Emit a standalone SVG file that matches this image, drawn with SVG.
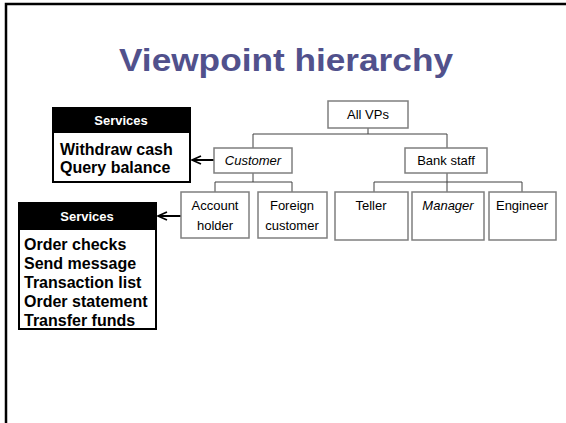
<svg xmlns="http://www.w3.org/2000/svg" width="566" height="423" viewBox="0 0 566 423">
<defs>
<marker id="ah" markerWidth="12" markerHeight="10" refX="10" refY="5" orient="auto" markerUnits="userSpaceOnUse">
<path d="M1,1 L10,5 L1,9" fill="none" stroke="#000" stroke-width="1.8"/>
</marker>
<style>
.node rect{fill:#fff;stroke:#7f7f7f;stroke-width:1.5}
.node text{font-family:"Comic Sans MS","Liberation Sans",sans-serif;font-size:13px;fill:#000;text-anchor:middle}
.conn path{fill:none;stroke:#404040;stroke-width:1}
.conn path.arrow{fill:none;stroke:#000;stroke-width:2}
.svc .hd{fill:#000}
.svc .bd{fill:#fff;stroke:#000;stroke-width:2}
.svc .ht{font-family:"Comic Sans MS","Liberation Sans",sans-serif;font-size:13px;font-weight:bold;fill:#fff;text-anchor:middle}
.svc .it{font-family:"Comic Sans MS","Liberation Sans",sans-serif;font-size:16px;font-weight:bold;fill:#000}
</style>
</defs>
<rect x="0" y="0" width="566" height="423" fill="#fff"/>
<path d="M6,423 V4 H566" fill="none" stroke="#000" stroke-width="2.5"/>
<text x="286" y="71" font-family="'Comic Sans MS','Liberation Sans',sans-serif" font-size="32" font-weight="bold" fill="#51518c" text-anchor="middle" textLength="334" lengthAdjust="spacingAndGlyphs">Viewpoint hierarchy</text>

<g class="conn" id="connectors">
<path d="M368,128 V134 M253,134 H447 M253,134 V148 M447,134 V148"/>
<path d="M253,173 V182 M215,182 H292 M215,182 V192 M292,182 V192"/>
<path d="M447,173 V182 M374,182 H522 M374,182 V192 M447,182 V192 M522,182 V192"/>
<path class="arrow" d="M214,160 H192" marker-end="url(#ah)"/>
<path class="arrow" d="M181,216 H158" marker-end="url(#ah)"/>
</g>

<g class="node" id="allvps"><rect x="328" y="101" width="80" height="27"/><text x="368" y="119">All VPs</text></g>
<g class="node" id="customer"><rect x="214" y="148" width="78" height="25"/><text x="253" y="165" font-style="italic">Customer</text></g>
<g class="node" id="bankstaff"><rect x="405" y="148" width="82" height="25"/><text x="446" y="165">Bank staff</text></g>
<g class="node" id="accountholder"><rect x="181" y="192" width="68" height="46"/><text x="215" y="210">Account</text><text x="215" y="230">holder</text></g>
<g class="node" id="foreigncustomer"><rect x="258" y="192" width="69" height="46"/><text x="292" y="210">Foreign</text><text x="292" y="230">customer</text></g>
<g class="node" id="teller"><rect x="335" y="192" width="73" height="48"/><text x="371" y="210">Teller</text></g>
<g class="node" id="manager"><rect x="412" y="192" width="72" height="48"/><text x="448" y="210" font-style="italic">Manager</text></g>
<g class="node" id="engineer"><rect x="489" y="192" width="67" height="48"/><text x="522" y="210">Engineer</text></g>

<g class="svc" id="services1">
<rect class="bd" x="53" y="108" width="137" height="74"/>
<rect class="hd" x="52" y="107" width="139" height="26"/>
<text class="ht" x="121" y="125">Services</text>
<text class="it" x="60" y="155">Withdraw cash</text>
<text class="it" x="60" y="173">Query balance</text>
</g>

<g class="svc" id="services2">
<rect class="bd" x="19" y="203" width="137" height="126"/>
<rect class="hd" x="18" y="202" width="139" height="28"/>
<text class="ht" x="87" y="221">Services</text>
<text class="it" x="24" y="250">Order checks</text>
<text class="it" x="24" y="269">Send message</text>
<text class="it" x="24" y="288">Transaction list</text>
<text class="it" x="24" y="307">Order statement</text>
<text class="it" x="24" y="326">Transfer funds</text>
</g>
</svg>
